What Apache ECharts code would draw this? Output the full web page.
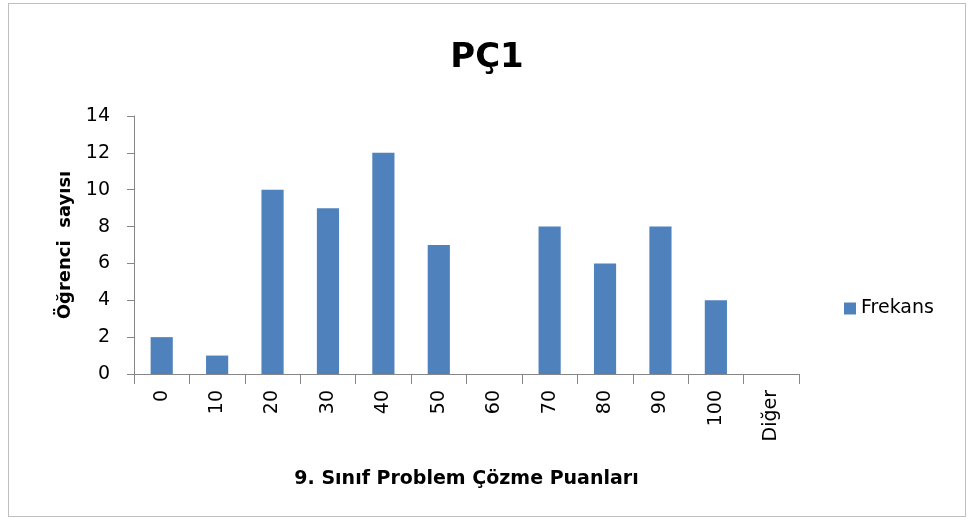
<!DOCTYPE html>
<html lang="tr" style="height: 100%">
<head>
  <meta charset="utf-8" />
</head>
<body style="height: 100%; margin: 0; background: #fff">
  <div id="container" style="position: absolute; left: 8px; top: 3px; width: 958px; height: 514px; border: 1px solid #bfbfbf; box-sizing: border-box"></div>
  <script src="https://cdn.jsdelivr.net/npm/echarts@6/dist/echarts.min.js"></script>
  <script>
    var categories = ["0", "10", "20", "30", "40", "50", "60", "70", "80", "90", "100", "Diğer"];
    var frekans = [2, 1, 10, 9, 12, 7, 0, 8, 6, 8, 4, 0];
    var seriesName = "Frekans";

    var chart = echarts.init(document.getElementById("container"), null, { renderer: "canvas" });
    var axisColor = "#868686";
    var font = "'DejaVu Sans', sans-serif";

    chart.setOption({
      animation: false,
      title: {
        text: "PÇ1",
        left: "center",
        top: 32,
        textStyle: { fontFamily: font, fontSize: 34, fontWeight: "bold", color: "#000" }
      },
      legend: {
        data: [{ name: seriesName, icon: "rect" }],
        left: 830,
        top: 290,
        itemWidth: 12,
        itemHeight: 12,
        itemGap: 6,
        textStyle: { fontFamily: font, fontSize: 19, color: "#000" }
      },
      grid: { left: 125, right: 166, top: 112, bottom: 142, containLabel: false },
      xAxis: {
        type: "category",
        data: categories,
        name: "9. Sınıf Problem Çözme Puanları",
        nameLocation: "middle",
        nameGap: 96,
        nameTextStyle: { fontFamily: font, fontSize: 19, fontWeight: "bold", color: "#000" },
        axisLine: { lineStyle: { color: axisColor, width: 1 } },
        axisTick: { show: true, length: 10, lineStyle: { color: axisColor } },
        axisLabel: { rotate: 90, fontFamily: font, fontSize: 19, color: "#000", margin: 16 }
      },
      yAxis: {
        type: "value",
        min: 0,
        max: 14,
        interval: 2,
        name: "Öğrenci  sayısı",
        nameLocation: "middle",
        nameGap: 60,
        nameTextStyle: { fontFamily: font, fontSize: 18, fontWeight: "bold", color: "#000" },
        axisLine: { show: true, lineStyle: { color: axisColor, width: 1 } },
        axisTick: { show: true, length: 7, lineStyle: { color: axisColor } },
        splitLine: { show: false },
        axisLabel: { fontFamily: font, fontSize: 19, color: "#000", margin: 24 }
      },
      series: [{
        name: seriesName,
        type: "bar",
        data: frekans,
        barWidth: "40%",
        itemStyle: { color: "#4F81BD" }
      }]
    });
  </script>
</body>
</html>
